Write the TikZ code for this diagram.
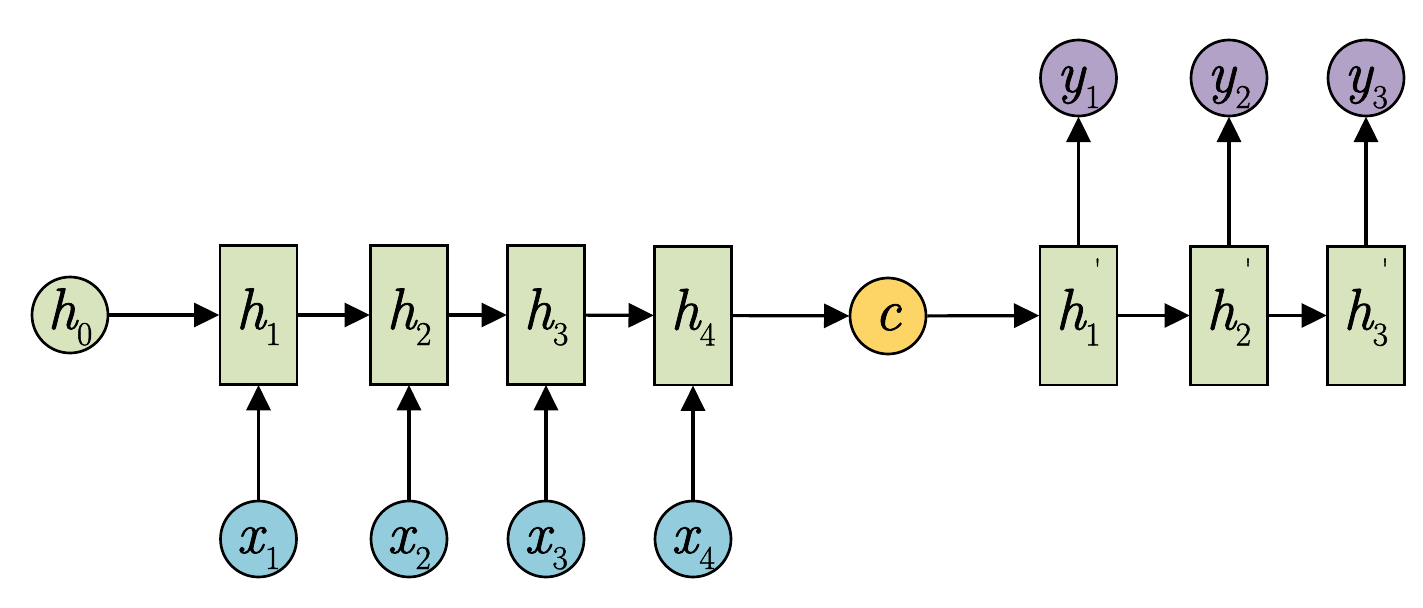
\documentclass[tikz,border=0pt]{standalone}
\usepackage{fontspec}
\newfontfamily\lblfont{Latin Modern Roman}[FakeBold=1.3]
\usetikzlibrary{arrows.meta}
\definecolor{cellgreen}{HTML}{D7E4BD}
\definecolor{inblue}{HTML}{93CDDD}
\definecolor{outpurple}{HTML}{B3A2C7}
\definecolor{ctxyellow}{HTML}{FDD466}
\newcommand{\mylbl}[2]{\lblfont\fontsize{44}{44}\selectfont\textit{#1}\kern-1pt\raisebox{-12pt}{\fontsize{25}{25}\selectfont #2}}
\newcommand{\mylblp}[2]{\lblfont\fontsize{44}{44}\selectfont\textit{#1}\kern-1pt\raisebox{-12pt}{\fontsize{25}{25}\selectfont #2}\kern-5pt\raisebox{38pt}{\fontsize{22}{22}\selectfont\textquotesingle}}
\tikzset{
  cell/.style={draw=black, line width=2pt, fill=cellgreen, minimum width=57.75pt, minimum height=104pt, inner sep=0pt, text height=28pt, text depth=7pt},
  vec/.style={draw=black, line width=2pt, circle, minimum size=57pt, inner sep=0pt, text height=28pt, text depth=7pt},
  arr/.style={line width=2.4pt, -{Triangle[length=19pt,width=18pt]}, shorten >=-0.5pt}
}
\begin{document}
\begin{tikzpicture}[x=0.75pt,y=-0.75pt]
\useasboundingbox (0,0) rectangle (1423,607);
% encoder
\node[vec, fill=cellgreen] (h0) at (70,315) {\mylbl{h}{0}};
\node[cell] (h1) at (258.5,315) {\mylbl{h}{1}};
\node[cell] (h2) at (409,315) {\mylbl{h}{2}};
\node[cell] (h3) at (546,315) {\mylbl{h}{3}};
\node[cell] (h4) at (693,315.5) {\mylbl{h}{4}};
\node[vec, fill=inblue] (x1) at (258.5,539) {\mylbl{x}{1}};
\node[vec, fill=inblue] (x2) at (409,539) {\mylbl{x}{2}};
\node[vec, fill=inblue] (x3) at (546,539) {\mylbl{x}{3}};
\node[vec, fill=inblue] (x4) at (693,539) {\mylbl{x}{4}};
% context
\node[vec, fill=ctxyellow] (c) at (888,316) {\lblfont\fontsize{44}{44}\selectfont\textit{c}};
% decoder
\node[cell] (d1) at (1078.5,315.5) {\mylblp{h}{1}};
\node[cell] (d2) at (1229,315.5) {\mylblp{h}{2}};
\node[cell] (d3) at (1366,315.5) {\mylblp{h}{3}};
\node[vec, fill=outpurple] (y1) at (1078.5,78) {\mylbl{y}{1}};
\node[vec, fill=outpurple] (y2) at (1229,78) {\mylbl{y}{2}};
\node[vec, fill=outpurple] (y3) at (1366,78) {\mylbl{y}{3}};
% connectors
\draw[arr] (h0) -- (h1);
\draw[arr] (h1) -- (h2);
\draw[arr] (h2) -- (h3);
\draw[arr] (h3) -- (h4);
\draw[arr] (h4) -- (c);
\draw[arr] (c) -- (d1);
\draw[arr] (d1) -- (d2);
\draw[arr] (d2) -- (d3);
\draw[arr] (x1) -- (h1);
\draw[arr] (x2) -- (h2);
\draw[arr] (x3) -- (h3);
\draw[arr] (x4) -- (h4);
\draw[arr] (d1) -- (y1);
\draw[arr] (d2) -- (y2);
\draw[arr] (d3) -- (y3);
\end{tikzpicture}
\end{document}
